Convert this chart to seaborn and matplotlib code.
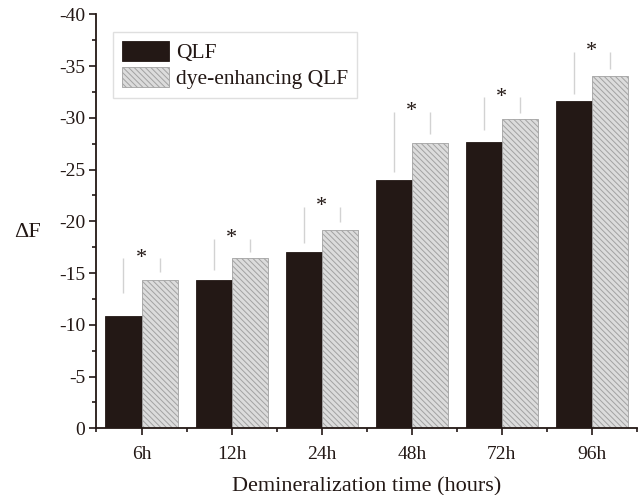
import matplotlib.pyplot as plt
import pandas as pd
import seaborn as sns
from matplotlib.ticker import MultipleLocator

# data
times = ['6h', '12h', '24h', '48h', '72h', '96h']
groups = ['QLF', 'dye-enhancing QLF']
qlf = [-10.9, -14.3, -17.0, -24.0, -27.7, -31.6]
dye_qlf = [-14.3, -16.5, -19.2, -27.6, -29.9, -34.0]

# significance brackets: common top and lower end over each bar
sig_top = [-16.45, -18.3, -21.4, -30.6, -32.0, -36.4]
sig_low_qlf = [-13.1, -15.3, -17.9, -24.8, -28.8, -32.3]
sig_low_dye = [-15.1, -17.0, -19.9, -28.4, -30.5, -34.7]

sns.set_style('ticks')
plt.rcParams['font.family'] = ['Liberation Serif', 'DejaVu Serif']
plt.rcParams['axes.unicode_minus'] = False
plt.rcParams['hatch.linewidth'] = 0.7
ink = '#231815'

df = pd.DataFrame({
    'time': times * 2,
    'method': [groups[0]] * len(times) + [groups[1]] * len(times),
    'dF': qlf + dye_qlf,
})

fig = plt.figure(figsize=(6.44, 4.95), dpi=100)
ax = fig.add_axes([0.1498, 0.1347, 0.8393, 0.8364])

sns.barplot(data=df, x='time', y='dF', hue='method', order=times, hue_order=groups,
            palette=[ink, '#dcdcdc'], saturation=1, width=0.8, gap=0,
            errorbar=None, legend=False, ax=ax)

for p in ax.containers[0]:
    p.set_edgecolor(ink)
    p.set_linewidth(0.6)
for p in ax.containers[1]:
    p.set_hatch('\\\\\\\\\\\\')
    p.set_edgecolor('#a2a2a2')
    p.set_linewidth(0.6)

# brackets (only the vertical legs are visible in the original) and stars
xq = [p.get_x() + p.get_width() / 2 for p in ax.containers[0]]
xd = [p.get_x() + p.get_width() / 2 for p in ax.containers[1]]
ax.vlines(xq, sig_low_qlf, sig_top, color='#d2d2d2', lw=1)
ax.vlines(xd, sig_low_dye, sig_top, color='#d2d2d2', lw=1)
for i, y in enumerate(sig_top):
    ax.text(i, y, '*', ha='center', va='center', fontsize=16, color=ink)

ax.set_xlim(-0.5, 5.5)
ax.set_ylim(0, -40)
ax.yaxis.set_major_locator(MultipleLocator(5))
ax.yaxis.set_minor_locator(MultipleLocator(2.5))
ax.xaxis.set_minor_locator(MultipleLocator(1, offset=0.5))
ax.tick_params(which='major', direction='out', length=5, width=1.2, labelsize=14,
               pad=3, color=ink, labelcolor=ink)
ax.tick_params(axis='x', which='major', pad=8)
ax.tick_params(which='minor', direction='out', length=3, width=1.2, color=ink)

for s in ['top', 'right']:
    ax.spines[s].set_visible(False)
for s in ['left', 'bottom']:
    ax.spines[s].set_linewidth(1.3)
    ax.spines[s].set_color(ink)

ax.set_xlabel('Demineralization time (hours)', fontsize=16, color=ink, labelpad=10)
ax.set_ylabel('ΔF', fontsize=16, color=ink, rotation=0, ha='center', va='center')
ax.yaxis.set_label_coords(-0.128, 0.472)

leg = ax.legend([ax.containers[0], ax.containers[1]], groups, loc='upper left',
                bbox_to_anchor=(0.0305, 0.957), borderaxespad=0, fontsize=15.5,
                frameon=True, fancybox=False, edgecolor='#d8d8d8',
                handlelength=2.2, handleheight=1.1, handletextpad=0.35,
                labelspacing=0.15, borderpad=0.4)
leg.get_frame().set_linewidth(1)
for t in leg.get_texts():
    t.set_color(ink)

fig.savefig('out.png', dpi=100)
